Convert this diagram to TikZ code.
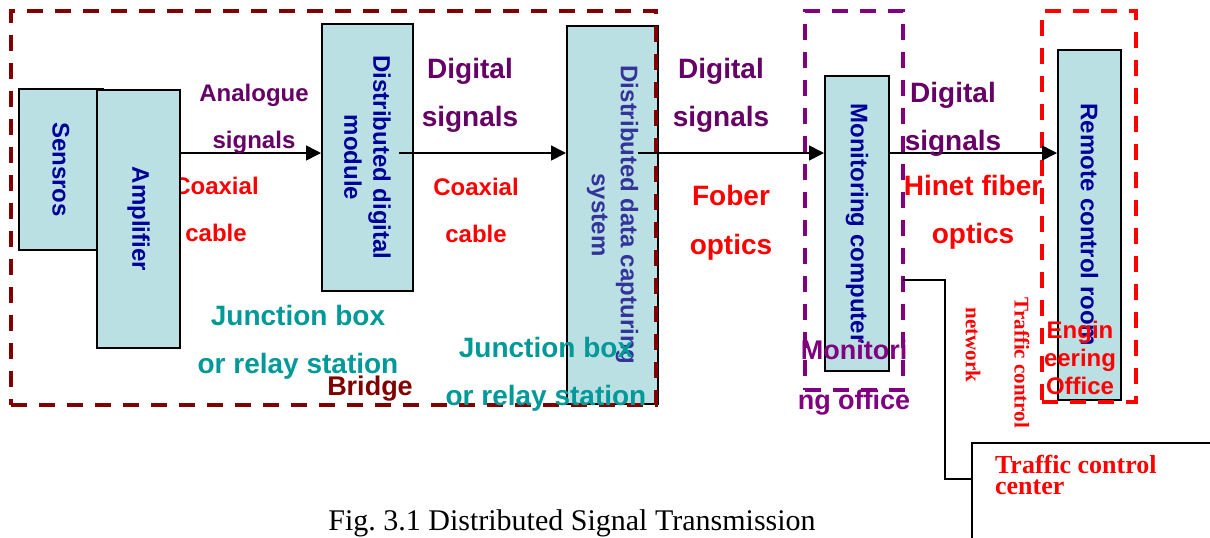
\documentclass[tikz,border=0pt]{standalone}
\usepackage{fontspec}
\setmainfont{Liberation Sans}
\newfontfamily\capfont{Liberation Serif}
\usetikzlibrary{arrows.meta}
\usetikzlibrary{fit}

\definecolor{boxfill}{HTML}{BBE0E3}
\definecolor{boxblue}{HTML}{000099}
\definecolor{sysblue}{HTML}{333399}
\definecolor{sigpurple}{HTML}{660066}
\definecolor{bridgered}{HTML}{800000}
\definecolor{officepurple}{HTML}{800080}
\definecolor{jbteal}{HTML}{009999}

\tikzset{
	unit/.style={draw=black, line width=1pt, fill=boxfill, inner sep=0pt},
	unittext/.style={rotate=-90, text=boxblue, align=center, font=\fontsize{12}{14.5}\selectfont\bfseries},
	zone/.style={draw=#1, line width=1.7pt, dash pattern=on 8pt off 6pt, inner sep=0pt},
	sigtext/.style={text=sigpurple, align=center, font=\fontsize{14}{24}\selectfont\bfseries},
	cabletext/.style={text=red, align=center, font=\fontsize{12}{23.5}\selectfont\bfseries},
	jbtext/.style={text=jbteal, align=center, font=\fontsize{14}{24}\selectfont\bfseries},
	nettext/.style={text=red, rotate=-90, font=\capfont\fontsize{10.5}{12}\selectfont\bfseries},
	flow/.style={draw, line width=0.8pt, -{Triangle[length=7.5pt,width=7.5pt]}},
	wire/.style={draw, line width=0.6pt}
}

\begin{document}
\begin{tikzpicture}[x=0.5pt,y=-0.5pt]
	
	\clip (0,0) rectangle (1210,537);
	\coordinate (lvl) at (0,153);
	
	% Draw bridge units
	\node[unit, fit={(19,89) (103,250)}] (sens) {};
	\node[unittext] (senstext) at (sens) {Sensros};
	\node[cabletext] (coax1) at (216,209) {Coaxial\\cable};
	\node[unit, fit={(97,90) (180,348)}] (amp) {};
	\node[unittext] (amptext) at (amp) {Amplifier};
	\node[unit, fit={(322,24) (413,291)}] (ddm) {};
	\node[unittext] (ddmtext) at (ddm) {Distributed digital\\module};
	\node[unit, fit={(567,26) (658,404)}] (ddcs) {};
	\node[unittext, text=sysblue] (ddcstext) at (ddcs) {Distributed data capturing\\system};
	\node[zone=bridgered, fit={(11,11) (656,405)}] (bridge) {};
	
	% Draw monitoring office
	\node[unit, fit={(825,76) (889,371)}] (moncomp) {};
	\node[unittext] (moncomptext) at (moncomp) {Monitoring computer};
	\node[zone=officepurple, fit={(805,11) (903,390)}] (monoffice) {};
	
	% Draw engineering office
	\node[unit, fit={(1058,50) (1121,400)}] (remote) {};
	\node[unittext] (remotetext) at (remote) {Remote control room};
	\node[zone=red, fit={(1042,11) (1136,402)}] (engoffice) {};
	
	% Draw signal flow
	\draw[flow] (amp.east |- lvl) -- (ddm.west |- lvl);
	\draw[flow] (ddm.east |- lvl) ++(-15,0) -- (ddcs.west |- lvl);
	\draw[flow] (ddcs.east |- lvl) ++(-21,0) -- (moncomp.west |- lvl);
	\draw[flow] (moncomp.east |- lvl) -- (remote.west |- lvl);
	
	% Draw link labels
	\node[sigtext, font=\fontsize{12}{23.5}\selectfont\bfseries] (analog) at (254,119) {Analogue\\signals};
	\node[sigtext] (dig1) at (470,95) {Digital\\signals};
	\node[cabletext] (coax2) at (476,210) {Coaxial\\cable};
	\node[sigtext] (dig2) at (721,95) {Digital\\signals};
	\node[cabletext, font=\fontsize{14}{24.5}\selectfont\bfseries] (fober) at (731,223) {Fober\\optics};
	\node[sigtext] (dig3) at (953,119) {Digital\\signals};
	\node[cabletext, font=\fontsize{14}{24}\selectfont\bfseries] (hinet) at (973,212) {Hinet fiber\\optics};
	
	% Draw site labels
	\node[jbtext] (jb1) at (298,342) {Junction box\\or relay station};
	\node[jbtext] (jb2) at (546,374) {Junction box\\or relay station};
	\node[text=bridgered, font=\fontsize{13.5}{16}\selectfont\bfseries] (bridgetext) at (370,389) {Bridge};
	\node[text=officepurple, align=center, font=\fontsize{13.5}{25}\selectfont\bfseries] (montext) at (854,378) {Monitori\\ng office};
	\node[text=red, align=center, font=\fontsize{12}{14}\selectfont\bfseries] (engtext) at (1080,358) {Engin\\eering\\Office};
	
	% Draw traffic control link
	\coordinate (tap) at (903,280);
	\coordinate (tccin) at (972,479);
	\draw[wire] (tap) -- ++(42,0) |- (tccin);
	\draw[line width=1pt] (972,560) |- (1230,443);
	\node[anchor=north west, text=red, align=left, font=\capfont\fontsize{13}{10.5}\selectfont\bfseries] (tcc) at (988,448) {Traffic control\\center};
	\node[nettext] (nettext) at (973,345) {network};
	\node[nettext] (tcntext) at (1022,363) {Traffic control};
	
	% Draw caption
	\node[anchor=base, font=\capfont\fontsize{15}{18}\selectfont] (caption) at (572,530) {Fig.\ 3.1 Distributed Signal Transmission};
	
\end{tikzpicture}
\end{document}
